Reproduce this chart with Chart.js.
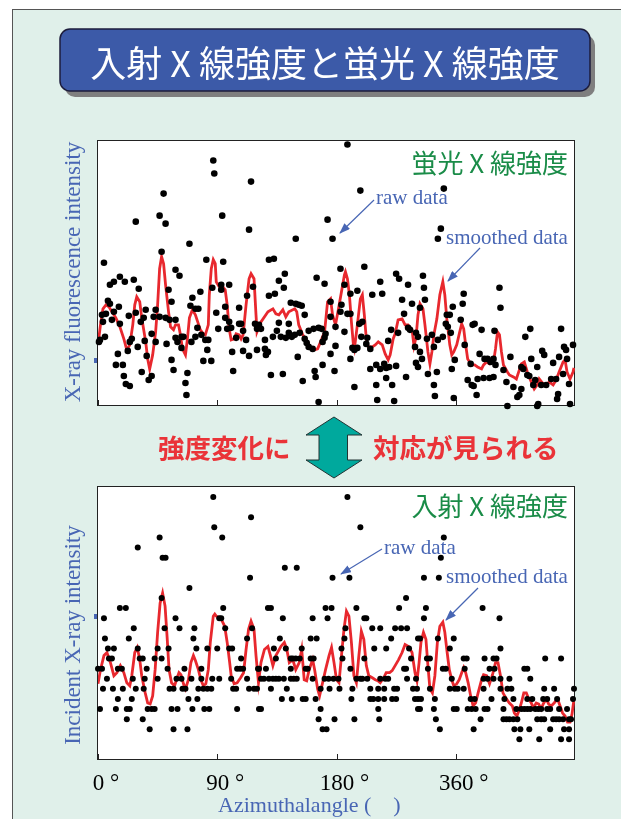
<!DOCTYPE html>
<html>
<head>
<meta charset="utf-8">
<title>入射X線強度と蛍光X線強度</title>
<script src="https://cdn.jsdelivr.net/npm/chart.js@4.4.1/dist/chart.umd.min.js"></script>
<style>
body{margin:0;background:#fff;}
#page{position:relative;width:621px;height:819px;overflow:hidden;background:#fff;}
#bg{position:absolute;left:12px;top:9px;right:0;bottom:0;background:#e0f0ea;border-left:1px solid #555;border-top:1px solid #555;}
canvas{position:absolute;}
#fluoChart{left:55px;top:130px;}
#incChart{left:55px;top:475px;}
#deco{position:absolute;left:0;top:0;}
</style>
</head>
<body>
<div id="page">
<div id="bg"></div>
<canvas id="fluoChart" width="530" height="290"></canvas>
<canvas id="incChart" width="530" height="344"></canvas>
<svg id="deco" width="621" height="819">
 <defs>
  <marker id="ah" markerWidth="11" markerHeight="8" refX="10" refY="4" orient="auto" markerUnits="userSpaceOnUse">
   <path d="M0,0 L11,4 L0,8 z" fill="#4866b4"/>
  </marker>
 </defs>
 <!-- タイトル -->
 <rect x="65" y="35" width="530" height="62" rx="10" fill="#7f7f7f"/>
 <rect x="60" y="29" width="530" height="62" rx="10" fill="#3c5aa8" stroke="#1c1c3c" stroke-width="1.5"/>
 <text x="325" y="77" text-anchor="middle" font-family="Noto Sans CJK JP" font-size="36" fill="#fff" style="white-space:pre">入射 X 線強度と蛍光 X 線強度</text>
 <!-- パネル名 -->
 <text x="568" y="173" text-anchor="end" font-family="Noto Sans CJK JP" font-size="26" fill="#1a8c48" style="white-space:pre">蛍光 X 線強度</text>
 <text x="568" y="516" text-anchor="end" font-family="Noto Sans CJK JP" font-size="26" fill="#1a8c48" style="white-space:pre">入射 X 線強度</text>
 <!-- 注釈 -->
 <g font-family="Liberation Serif" font-size="21" fill="#4866b4">
  <text x="376" y="204">raw data</text>
  <text x="446" y="243.5">smoothed data</text>
  <text x="384" y="553.5">raw data</text>
  <text x="446" y="582.5">smoothed data</text>
 </g>
 <g stroke="#4866b4" stroke-width="1.2" marker-end="url(#ah)">
  <line x1="374" y1="200" x2="340" y2="233"/>
  <line x1="480" y1="248" x2="448" y2="281"/>
  <line x1="382" y1="549" x2="341" y2="574"/>
  <line x1="478" y1="588" x2="446" y2="620"/>
 </g>
 <!-- 軸タイトル -->
 <g font-family="Liberation Serif" font-size="23" fill="#4866b4" text-anchor="middle">
  <text transform="translate(80,272) rotate(-90)">X-ray fluorescence intensity</text>
  <text transform="translate(80,635) rotate(-90)">Incident X-ray intensity</text>
 </g>
 <text x="218" y="812" font-family="Liberation Serif" font-size="22" fill="#4866b4" style="white-space:pre">Azimuthalangle (    )</text>
 <!-- 中央メッセージ -->
 <g font-family="Noto Sans CJK JP" font-weight="700" font-size="26.5" fill="#ea3338">
  <text x="158" y="458">強度変化に</text>
  <text x="373" y="458">対応が見られる</text>
 </g>
 <polygon points="334,417 362,435 347.5,435 347.5,460 362,460 334,478 306,460 319,460 319,435 306,435" fill="#00a99d" stroke="#233" stroke-width="1"/>
</svg>
</div>

<script>
// 横軸 (方位角)
var xTickValues = [0, 120, 240, 360];
var xTickLabels = ['0 °', '90 °', '180 °', '360 °'];

// 蛍光X線強度 生データ [方位, 強度]
var fluoRaw = [
[116,245],[117,232],[154,224],[66,212],[62,190],[68,182],[38,184],[125,190],[152,176],[92,162],[64,154],[6,143],[109,146],[126,144],[78,136],[82,130],[22,129],[16,124],[12,121],[27,124],[36,126],[41,117],[115,118],[124,121],[124,116],[132,121],[156,119],[71,116],[10,105],[12,102],[21,99],[74,104],[95,108],[103,114],[150,110],[142,98],[4,91],[8,92],[16,94],[31,90],[38,93],[48,96],[58,96],[56,89],[62,89],[68,88],[93,100],[98,97],[101,97],[119,93],[128,99],[5,84],[14,86],[22,82],[43,84],[46,88],[72,86],[78,86],[128,88],[132,84],[142,82],[144,82],[134,78],[130,77],[121,77],[158,82],[160,77],[100,78],[2,66],[1,64],[7,69],[34,67],[32,64],[47,65],[40,59],[54,72],[58,64],[69,62],[78,68],[80,64],[84,69],[86,69],[84,58],[94,64],[98,69],[104,71],[108,66],[111,66],[139,68],[146,75],[149,66],[20,52],[30,55],[49,50],[110,56],[135,54],[146,55],[152,50],[160,56],[18,41],[25,41],[44,34],[74,46],[76,36],[106,45],[114,45],[136,35],[26,30],[28,22],[32,20],[51,26],[54,30],[88,23],[90,33],[89,11],
[251,261],[264,215],[231,186],[199,167],[236,167],[172,146],[177,147],[244,137],[268,139],[188,132],[182,125],[187,118],[220,128],[228,122],[248,121],[300,132],[303,127],[284,124],[312,121],[172,110],[178,112],[194,103],[199,102],[202,101],[205,100],[208,91],[234,104],[245,101],[254,112],[261,115],[276,111],[286,112],[306,106],[316,102],[244,94],[251,92],[234,89],[239,79],[254,92],[263,82],[266,84],[308,92],[162,81],[164,77],[182,83],[192,82],[168,66],[176,69],[180,75],[184,69],[189,68],[192,73],[195,69],[198,71],[203,73],[208,67],[212,75],[217,77],[222,78],[225,77],[229,72],[228,68],[226,64],[210,63],[212,59],[216,57],[168,57],[171,54],[169,51],[239,60],[248,74],[256,58],[258,56],[261,58],[265,69],[271,68],[274,57],[270,62],[292,65],[295,76],[302,73],[312,78],[314,76],[320,73],[319,59],[201,49],[218,35],[219,29],[226,41],[238,35],[234,52],[254,47],[274,37],[280,41],[284,37],[288,42],[290,38],[293,39],[300,40],[320,43],[174,31],[186,32],[206,25],[258,19],[280,21],[290,28],[296,21],[310,29],[222,4],[281,6],[298,5],
[348,217],[345,177],[342,167],[327,130],[328,118],[329,106],[404,118],[405,98],[368,112],[367,102],[324,98],[357,99],[354,91],[351,91],[350,82],[352,79],[365,86],[379,82],[377,81],[386,76],[399,75],[435,77],[466,77],[430,69],[322,69],[331,67],[336,71],[342,66],[347,69],[355,73],[369,61],[324,54],[338,59],[322,39],[326,47],[332,32],[341,34],[356,37],[359,46],[375,42],[384,52],[389,47],[392,47],[395,44],[398,47],[400,41],[408,36],[415,49],[426,39],[428,37],[447,55],[449,51],[436,47],[442,39],[458,43],[464,49],[469,59],[471,56],[478,61],[472,47],[372,26],[376,21],[378,20],[381,11],[388,28],[398,29],[394,28],[382,27],[411,24],[418,19],[422,9],[424,11],[426,17],[432,31],[434,30],[438,21],[440,26],[446,21],[451,21],[456,27],[461,27],[463,12],[462,7],[468,32],[474,22],[443,2],[442,0],[412,0],[475,2],[358,8],[339,10],[338,21]
];

// 蛍光X線強度 平滑化
var fluoSmooth = [
[0,61],[2.5,81],[5,97],[8,101],[11,99],[14,94],[18,88],[22,79],[26,67],[29,56],[32,61],[35,81],[37,101],[39,109],[42,104],[44,88],[48,64],[50,47],[52,37],[55,51],[58,74],[60,101],[62,137],[64,149],[66,142],[68,121],[71,94],[73,79],[76,76],[78,81],[81,81],[83,71],[85,57],[88,51],[90,67],[92,88],[95,96],[98,91],[101,82],[103,76],[106,72],[108,71],[111,81],[112,111],[114,137],[116,146],[118,142],[119,124],[122,119],[124,121],[128,116],[130,101],[132,77],[134,66],[137,67],[139,72],[142,71],[144,67],[146,71],[149,101],[152,127],[154,132],[157,127],[159,91],[160,74],
[164,84],[171,94],[176,97],[179,92],[182,91],[186,96],[189,89],[192,94],[198,97],[200,94],[202,81],[206,71],[211,64],[214,57],[218,56],[221,57],[224,64],[228,74],[231,104],[234,107],[236,91],[239,81],[242,97],[245,114],[248,131],[249,134],[251,127],[253,111],[255,84],[257,61],[258,57],[261,81],[264,107],[266,111],[268,91],[270,67],[272,59],[276,59],[279,61],[282,64],[286,61],[289,52],[292,46],[294,51],[297,67],[299,72],[302,86],[306,87],[309,81],[312,81],[316,76],
[318,60],[320,68],[322,91],[324,102],[327,97],[329,81],[332,54],[334,42],[336,54],[338,71],[341,87],[344,111],[347,124],[349,111],[351,87],[354,61],[356,51],[358,54],[361,61],[364,74],[366,82],[368,77],[370,61],[372,47],[376,41],[379,41],[382,39],[386,37],[388,41],[391,44],[394,42],[398,44],[400,57],[402,74],[404,71],[406,54],[408,41],[412,34],[414,31],[418,29],[421,27],[424,36],[426,42],[429,44],[432,34],[436,24],[439,17],[442,21],[444,27],[448,22],[451,21],[454,24],[458,21],[461,26],[464,34],[468,44],[470,46],[472,34],[475,27],[478,34],[479,38]
];

// 入射X線強度 生データ [方位, カウント]
var incidentRaw = [
[116,25],[154,23],[117,22],[62,21],[125,21],[40,20],[65,19],[68,19],[153,17],[92,16],[64,15],[22,14],[28,14],[126,14],[6,13],[78,13],[122,13],[124,13],
[36,12],[67,12],[82,12],[97,12],[128,12],[155,12],[7,11],[31,11],[96,11],[150,11],
[10,10],[16,10],[40,10],[60,10],[71,10],[99,10],[110,10],[120,10],[132,10],[135,10],
[11,9],[14,9],[42,9],[45,9],[57,9],[64,9],[144,9],
[0,8],[4,8],[20,8],[24,8],[49,8],[70,8],[87,8],[104,8],[140,8],[143,8],[146,8],[161,8],
[9,7],[35,7],[47,7],[60,7],[79,7],[84,7],[94,7],[104,7],[115,7],[122,7],[134,7],[150,7],
[5,6],[15,6],[25,6],[38,6],[46,6],[72,6],[76,6],[85,6],[88,6],[101,6],[106,6],[110,6],[114,6],[136,6],[139,6],[152,6],[157,6],[160,6],
[20,5],[34,5],[91,5],[100,5],
[2,4],[18,4],[29,4],[32,4],[50,4],[54,4],[57,4],[74,4],[80,4],[95,4],[107,4],[112,4],[140,4],[162,4],
[29,3],[45,3],[52,2],[76,2],[90,2],
[251,25],[264,22],[188,18],[200,18],[236,17],[253,17],[310,15],
[171,14],[174,14],[229,14],[235,14],[260,14],[303,14],
[186,13],[216,13],[231,13],[268,13],[270,13],
[249,12],[276,12],[284,12],[299,12],[305,12],[311,12],
[183,11],[214,11],[220,11],[248,11],[295,11],[322,11],
[177,10],[189,10],[205,10],[245,10],[278,10],[290,10],[313,10],
[179,9],[194,9],[196,9],[199,9],[203,9],[214,9],[217,9],[246,9],[268,9],[315,9],
[162,8],[169,8],[194,8],[209,8],[211,8],[254,8],[308,8],[310,8],
[164,7],[167,7],[172,7],[176,7],[179,7],[182,7],[187,7],[194,7],[197,7],[200,7],[216,7],[228,7],[232,7],[237,7],[242,7],[260,7],[264,7],[266,7],[271,7],[284,7],[289,7],[292,7],[311,7],[320,7],
[174,6],[190,6],[224,6],[233,6],[243,6],[256,6],[274,6],[282,6],[288,6],[298,6],[301,6],[317,6],
[185,5],[195,5],[206,5],[209,5],[219,5],[255,5],[274,5],[277,5],[282,5],[288,5],[296,5],[300,5],[319,5],
[164,4],[224,4],[282,4],[322,4],
[222,3],[238,3],[258,3],[283,3],[226,2],[230,2],
[348,21],[345,19],[328,17],[343,17],[330,14],[387,14],[328,13],[404,13],[324,11],[342,11],[358,11],[405,10],[354,10],
[331,9],[334,9],[368,9],[371,9],[389,9],[398,9],[401,9],[450,9],[466,9],
[332,8],[347,8],[350,8],[369,8],[394,8],[399,8],[429,8],[432,8],
[356,7],[388,7],[392,7],[398,7],[405,7],[414,7],[435,7],
[321,6],[334,6],[354,6],[359,6],[362,6],[368,6],[388,6],[405,6],[412,6],[416,6],[449,6],[459,6],[479,6],
[322,5],[325,5],[339,5],[375,5],[379,5],[396,5],[409,5],[418,5],[432,5],[437,5],[448,5],[452,5],[462,5],[478,5],
[324,4],[338,4],[358,4],[361,4],[372,4],[376,4],[380,4],[389,4],[392,4],[408,4],[421,4],[426,4],[429,4],[432,4],[435,4],[440,4],[443,4],[446,4],[452,4],[455,4],[464,4],[472,4],
[340,3],[385,3],[408,3],[411,3],[414,3],[418,3],[422,3],[442,3],[446,3],[449,3],[458,3],[461,3],[464,3],[468,3],[474,3],[476,3],
[344,2],[378,2],[419,2],[425,2],[434,2],[455,2],[469,2],[474,2],
[424,1],[444,1],[466,1],[474,1]
];

// 入射X線強度 平滑化
var incidentSmooth = [
[0,6.5],[2.5,7.9],[6,9.3],[9,9.6],[12.5,8.6],[16,7.3],[19,7.6],[22.5,8.3],[26,7.6],[29,6.6],[32,6.3],[34,7.3],[37,9.6],[39.5,10.1],[42,8.9],[44,7.3],[47.5,5.6],[50,4.6],[52.5,4.5],[55,5.3],[57.5,7.9],[60,11.6],[62.5,14.5],[65,15.5],[67.5,14.2],[69.5,11.2],[71.5,7.9],[74,6.6],[77,6.3],[79,6.9],[81.5,7.6],[83.5,7.4],[86,6.5],[88,6],[91,6.9],[93.5,8.6],[96,9.3],[98,8.8],[101,7.9],[103.5,6.9],[106,6.3],[108.5,6.5],[111,7.9],[113,10.6],[116,13.2],[117.5,13.4],[119,13.2],[121.5,13.1],[124,12.9],[127.5,12.2],[130,10.6],[132.5,8.6],[134,7.3],[137,6.5],[140,6.6],[143.5,7.1],[146.5,7.6],[149,9.9],[151.5,11.9],[154,12.7],[157,11.9],[159,9.3],[161.5,6.6],
[164,8.6],[167.5,9.9],[171,10.2],[173.5,9.3],[176,8.3],[179,9.3],[184,10.2],[187.5,10.6],[190,9.9],[192.5,8.6],[196,8.9],[199,7.9],[202.5,8.6],[205,9.9],[207.5,6.9],[210,6.8],[212.5,7.9],[216,8.9],[218,7.9],[221,6],[223,5.3],[226,6.6],[229,7.9],[232.5,9.3],[235,10.1],[237.5,8.6],[240,6.9],[242.5,6.6],[245,9.3],[247.5,11.9],[250,13.7],[252.5,13.2],[255,10.6],[257.5,7.3],[260,6.6],[262.5,9.3],[265,11.7],[267.5,10.9],[270,8.3],[272.5,7.3],[276,7.1],[279,6.9],[281.5,6.8],[284,6.6],[287.5,7.1],[290,7.6],[293.5,7.6],[296,7.8],[299,8.3],[302.5,8.9],[306,9.6],[309,10.4],[312.5,10.2],[316,9.6],
[319,7.6],[321,6.8],[323,8.5],[325,10.6],[327.5,11.6],[330,10.9],[332,8.3],[334,6],[336.5,5.6],[339,7.3],[341.5,10.6],[344,12.2],[347,12.6],[349,11.6],[351,9.9],[353.5,7.9],[356,6.9],[358,6.3],[361,6.5],[363.5,6.9],[366,7.6],[368,8.1],[370,7.6],[372.5,6.6],[375,5.3],[377.5,4.3],[380,4.6],[382.5,5.6],[386,6.9],[388,7.4],[391,7.3],[394,6.5],[397,7.4],[400,8.6],[402.5,8.6],[405,7.3],[407.5,5.6],[411,5],[414,4.6],[417,4.3],[419,3.6],[421.5,3.3],[423.5,3.8],[426,4.6],[428.5,5.6],[431,5.6],[433.5,5],[436,4.6],[438,4.1],[441,4.6],[443.5,4.5],[446,4],[448,4.5],[451,5],[453.5,4.5],[456,4.3],[459,4.6],[462.5,5],[465,4.3],[467.5,3.6],[470,3.3],[472.5,2.7],[475,2.7],[477,3.5],[479,5]
];

Chart.defaults.font.family = 'Liberation Serif';

function toPoint(p){
	return {x: p[0], y: p[1]};
}

// 枠・内向き目盛り
var framePlugin = {
	id: 'frame',
	beforeDraw: function(chart){
		var a = chart.chartArea, ctx = chart.ctx;
		ctx.save();
		ctx.fillStyle = '#fff';
		ctx.fillRect(a.left, a.top, a.right - a.left, a.bottom - a.top);
		ctx.restore();
	},
	beforeDatasetsDraw: function(chart){
		var a = chart.chartArea, ctx = chart.ctx, xs = chart.scales.x;
		ctx.save();
		ctx.strokeStyle = '#222';
		ctx.lineWidth = 1;
		ctx.strokeRect(a.left - 0.5, a.top - 0.5, a.right - a.left, a.bottom - a.top);
		ctx.beginPath();
		xTickValues.forEach(function(v){
			var px = Math.round(xs.getPixelForValue(v)) + 0.5;
			ctx.moveTo(px, a.bottom - 0.5);
			ctx.lineTo(px, a.bottom - 6);
		});
		ctx.stroke();
		ctx.restore();
	}
};

function drawPanel(id, raw, smooth, yMin, yMax, mark, dot, showLabels, pad, xHeight){
	return new Chart(document.getElementById(id), {
		type: 'scatter',
		data: {
			datasets: [{
				data: raw.map(toPoint),
				showLine: false,
				pointRadius: dot,
				pointBackgroundColor: '#000',
				pointBorderWidth: 0,
				clip: false
			}, {
				data: smooth.map(toPoint),
				showLine: true,
				pointRadius: 0,
				borderColor: '#e8282e',
				borderWidth: 2.8,
				tension: 0,
				fill: false
			}]
		},
		options: {
			responsive: false,
			animation: false,
			events: [],
			layout: {padding: pad},
			plugins: {legend: {display: false}, tooltip: {enabled: false}},
			scales: {
				x: {
					type: 'linear', min: 0, max: 480,
					afterBuildTicks: function(s){ s.ticks = xTickValues.map(function(v){ return {value: v}; }); },
					afterFit: function(s){ s.height = xHeight; },
					grid: {display: false},
					border: {display: false},
					ticks: {
						display: showLabels,
						autoSkip: false, maxRotation: 0, minRotation: 0,
						labelOffset: 8, padding: 2,
						color: '#000',
						font: {family: 'Liberation Serif', size: 23},
						callback: function(v, i){ return xTickLabels[i]; }
					}
				},
				y: {
					type: 'linear', min: yMin, max: yMax,
					afterBuildTicks: function(s){ s.ticks = [{value: mark}]; },
					afterFit: function(s){ s.width = 43; },
					border: {display: false},
					grid: {drawOnChartArea: false, tickLength: 4, tickWidth: 5, tickColor: '#4866b4'},
					ticks: {display: false}
				}
			}
		},
		plugins: [framePlugin]
	});
}

drawPanel('fluoChart', fluoRaw, fluoSmooth, 0, 264.5, 45.5, 3.3, false, {top: 11, right: 10, bottom: 14, left: 0}, 0);
drawPanel('incChart', incidentRaw, incidentSmooth, -1.05, 26, 13.2, 3, true, {top: 12, right: 10, bottom: 19, left: 0}, 40);
</script>
</body>
</html>
